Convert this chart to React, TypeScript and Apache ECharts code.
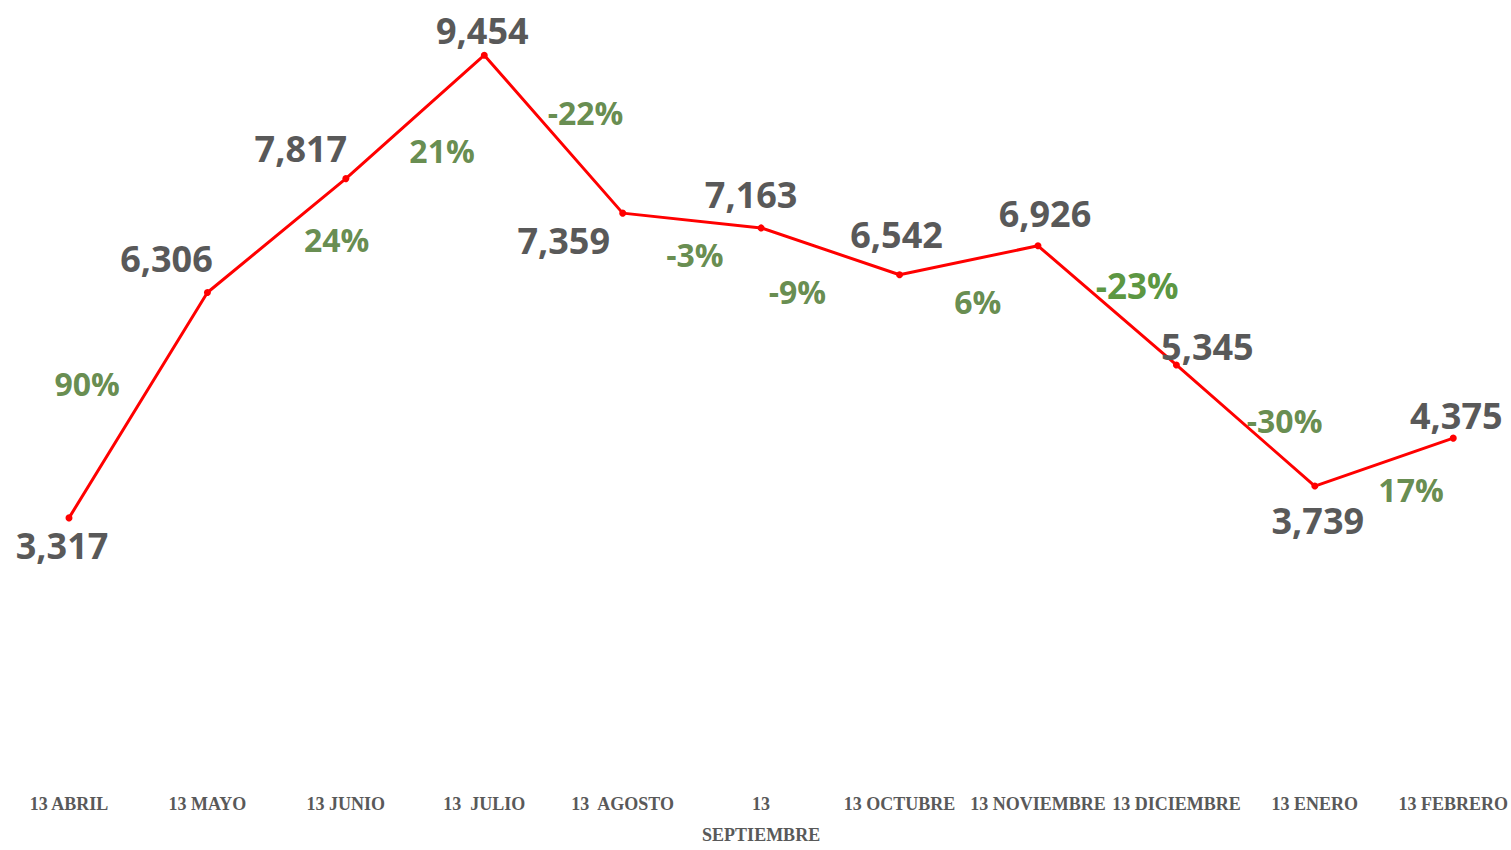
import React, { useEffect, useRef } from "react";
import * as echarts from "echarts";

const categories = [
  "13 ABRIL",
  "13 MAYO",
  "13 JUNIO",
  "13  JULIO",
  "13  AGOSTO",
  "13\nSEPTIEMBRE",
  "13 OCTUBRE",
  "13 NOVIEMBRE",
  "13 DICIEMBRE",
  "13 ENERO",
  "13 FEBRERO",
];

const values = [3317, 6306, 7817, 9454, 7359, 7163, 6542, 6926, 5345, 3739, 4375];

// label placement offsets (pixels) relative to each point
const valueLabelOffsets: [number, number][] = [
  [-7, 28],
  [-41, -34],
  [-45, -30],
  [-2, -25],
  [-59, 27],
  [-10, -33],
  [-3, -40],
  [7, -32],
  [31, -18],
  [3, 34],
  [3, -23],
];

// offsets of the change labels relative to the segment midpoint
const changeLabelOffsets: [number, number][] = [
  [-51, -22],
  [60, 4],
  [27, 34],
  [32, -22],
  [3, 34],
  [-33, 40],
  [9, 41],
  [30, -20],
  [39, -5],
  [27, 27],
];

const fmt = (v: number) => v.toLocaleString("en-US");

export default function App() {
  const ref = useRef<HTMLDivElement>(null);
  useEffect(() => {
    if (!ref.current) return;
    const chart = echarts.init(ref.current, undefined, { renderer: "svg" });

    const lineData = values.map((v, i) => ({
      value: v,
      label: { offset: valueLabelOffsets[i] },
    }));

    const changeData = values.slice(0, -1).map((v, i) => {
      const next = values[i + 1];
      const pct = Math.round((next / v - 1) * 100);
      return {
        value: [i + 0.5, (v + next) / 2],
        label: {
          offset: changeLabelOffsets[i],
          formatter: pct + "%",
          ...(i === 7 ? { color: "#2F7A0E", fontSize: 35 } : {}),
        },
      };
    });

    chart.setOption({
      animation: false,
      backgroundColor: "#ffffff",
      grid: { left: 69, right: 57, top: 14, bottom: 73, containLabel: false },
      xAxis: [
        {
          type: "category",
          data: categories,
          boundaryGap: false,
          axisLine: { show: false },
          axisTick: { show: false },
          splitLine: { show: false },
          axisLabel: {
            interval: 0,
            color: "#595959",
            fontFamily: "Liberation Serif, serif",
            fontWeight: "bold",
            fontSize: 18,
            lineHeight: 31,
            margin: 20,
          },
        },
        {
          type: "value",
          min: 0,
          max: values.length - 1,
          show: false,
        },
      ],
      yAxis: {
        type: "value",
        min: 0,
        max: 10000,
        show: false,
        splitLine: { show: false },
      },
      series: [
        {
          type: "line",
          data: lineData,
          xAxisIndex: 0,
          symbol: "circle",
          symbolSize: 7,
          lineStyle: { color: "#FF0000", width: 3 },
          itemStyle: { color: "#FF0000" },
          label: {
            show: true,
            position: ["50%", "50%"],
            align: "center",
            verticalAlign: "middle",
            formatter: (p: any) => fmt(p.value),
            color: "#595959",
            fontFamily: "Open Sans, sans-serif",
            fontWeight: "bold",
            fontSize: 36,
          },
          z: 3,
        },
        {
          type: "scatter",
          data: changeData,
          xAxisIndex: 1,
          symbolSize: 0,
          silent: true,
          itemStyle: { color: "transparent" },
          label: {
            show: true,
            position: ["50%", "50%"],
            align: "center",
            verticalAlign: "middle",
            color: "#3F6F22",
            fontFamily: "Open Sans, sans-serif",
            fontWeight: "bold",
            fontSize: 32,
          },
          z: 2,
        },
      ],
    });
    return () => chart.dispose();
  }, []);
  return (
    <div
      ref={ref}
      style={{ position: "fixed", left: 0, top: 0, width: 1511, height: 850 }}
    />
  );
}
